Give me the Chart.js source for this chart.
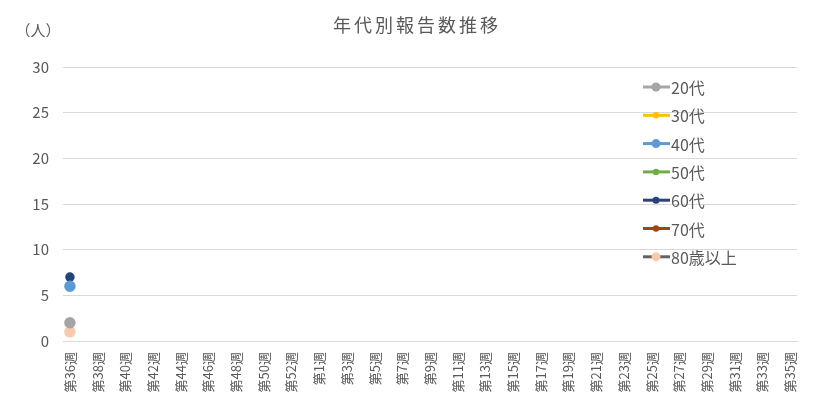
<!DOCTYPE html>
<html lang="ja">
<head>
  <meta charset="UTF-8" />
  <title>年代別報告数推移</title>
  <script src="https://cdn.jsdelivr.net/npm/chart.js"></script>
  <style>
    html, body { margin: 0; padding: 0; background: #fff; }
    #wrap { width: 832px; height: 406px; position: relative; }
  </style>
</head>
<body>
  <div id="wrap"><canvas id="trendChart" width="832" height="406"></canvas></div>

  <script>
    // 週ラベル (第36週〜第53週, 第1週〜第35週)
    const weeks = [
      '第36週','第37週','第38週','第39週','第40週','第41週','第42週','第43週','第44週',
      '第45週','第46週','第47週','第48週','第49週','第50週','第51週','第52週','第53週',
      '第1週','第2週','第3週','第4週','第5週','第6週','第7週','第8週','第9週','第10週',
      '第11週','第12週','第13週','第14週','第15週','第16週','第17週','第18週','第19週','第20週',
      '第21週','第22週','第23週','第24週','第25週','第26週','第27週','第28週','第29週','第30週',
      '第31週','第32週','第33週','第34週','第35週'
    ];

    // 報告数 (第36週のみ値あり)
    const age20 = [2];
    const age30 = [null];
    const age40 = [6];
    const age50 = [null];
    const age60 = [7];
    const age70 = [null];
    const age80 = [1];

    const yTicks = [0, 5, 10, 15, 20, 25, 30];

    const font = '"Noto Sans CJK JP", "Noto Sans", sans-serif';
    const textColor = '#595959';

    const series = [
      { label: '20代', data: age20, line: '#A5A5A5', point: '#A5A5A5', r: 4.5 },
      { label: '30代', data: age30, line: '#FFC000', point: '#FFC000', r: 3.2 },
      { label: '40代', data: age40, line: '#5B9BD5', point: '#5B9BD5', r: 4.5 },
      { label: '50代', data: age50, line: '#70AD47', point: '#70AD47', r: 3.2 },
      { label: '60代', data: age60, line: '#264478', point: '#264478', r: 3.5 },
      { label: '70代', data: age70, line: '#9E480E', point: '#9E480E', r: 3.2 },
      { label: '80歳以上', data: age80, line: '#636363', point: '#F8CBAD', r: 4.5 }
    ];

    // タイトル・凡例・単位ラベルを描く
    const extras = {
      id: 'extras',
      afterDraw(chart) {
        const ctx = chart.ctx;
        ctx.save();
        ctx.fillStyle = textColor;
        ctx.textBaseline = 'middle';

        ctx.font = '18px ' + font;
        ctx.textAlign = 'center';
        ctx.letterSpacing = '3px';
        ctx.fillText('年代別報告数推移', 417, 25);
        ctx.letterSpacing = '0px';

        ctx.font = '15px ' + font;
        ctx.fillText('（人）', 38, 30);

        ctx.font = '16px ' + font;
        ctx.textAlign = 'left';
        series.forEach((s, i) => {
          const y = 87 + i * 28.3;
          ctx.strokeStyle = s.line;
          ctx.lineWidth = 3;
          ctx.beginPath();
          ctx.moveTo(643, y);
          ctx.lineTo(670, y);
          ctx.stroke();
          ctx.fillStyle = s.point;
          ctx.beginPath();
          ctx.arc(656, y, s.r, 0, Math.PI * 2);
          ctx.fill();
          ctx.fillStyle = textColor;
          ctx.fillText(s.label, 671, y + 1);
        });
        ctx.restore();
      }
    };

    new Chart(document.getElementById('trendChart'), {
      type: 'line',
      data: {
        labels: weeks,
        datasets: series.map(s => ({
          label: s.label,
          data: s.data,
          borderColor: s.line,
          backgroundColor: s.point,
          pointBackgroundColor: s.point,
          pointBorderColor: s.point,
          pointRadius: s.r,
          borderWidth: 2.5,
          spanGaps: false
        }))
      },
      options: {
        responsive: false,
        animation: false,
        layout: { padding: { left: 0, right: 35, top: 67, bottom: 4 } },
        plugins: {
          legend: { display: false },
          tooltip: { enabled: false },
          title: { display: false }
        },
        scales: {
          x: {
            offset: true,
            grid: { display: false },
            border: { color: '#D9D9D9' },
            afterFit: axis => { axis.height = 61; },
            ticks: {
              autoSkip: false,
              maxRotation: 90,
              minRotation: 90,
              color: textColor,
              font: { family: font, size: 13 },
              callback: function (v, i) { return i % 2 === 0 ? this.getLabelForValue(v) : ''; }
            }
          },
          y: {
            min: 0,
            max: 30,
            afterBuildTicks: axis => { axis.ticks = yTicks.map(v => ({ value: v })); },
            afterFit: axis => { axis.width = 63; },
            grid: { color: '#D9D9D9', drawTicks: false },
            border: { display: false },
            ticks: {
              padding: 14,
              color: textColor,
              font: { family: font, size: 15 }
            }
          }
        }
      },
      plugins: [extras]
    });
  </script>
</body>
</html>
